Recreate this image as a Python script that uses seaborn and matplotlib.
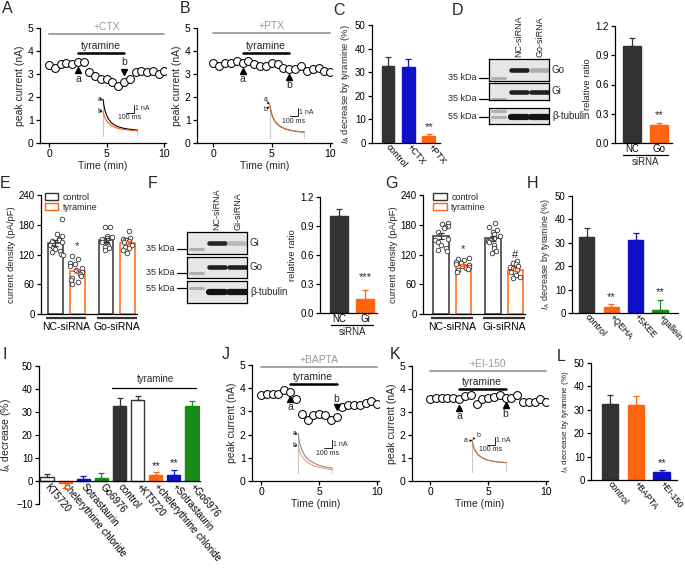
import numpy as np
import pandas as pd
import matplotlib
matplotlib.use("Agg")
import matplotlib.pyplot as plt
import matplotlib.transforms as mtransforms
from matplotlib.patches import Patch
import seaborn as sns

# ---------------- values ----------------
time_min = [0, 0.5, 1, 1.5, 2, 2.5, 3, 3.5, 4, 4.5, 5, 5.5, 6, 6.5, 7, 7.5, 8, 8.5, 9, 9.5, 10]
ctx_current = [3.40, 3.28, 3.45, 3.50, 3.42, 3.52, 3.52, 3.10, 2.90, 2.80, 2.77, 2.65, 2.50, 2.65, 2.77, 3.10, 3.15, 3.10, 3.12, 3.00, 3.12]
ptx_current = [3.48, 3.36, 3.48, 3.48, 3.55, 3.48, 3.55, 3.43, 3.33, 3.36, 3.48, 3.45, 3.26, 3.23, 3.22, 3.33, 3.12, 3.22, 3.26, 3.12, 3.07]
bapta_current = [3.70, 3.77, 3.77, 3.77, 3.91, 3.84, 3.55, 2.90, 2.65, 2.83, 2.87, 2.83, 2.65, 2.75, 3.19, 3.26, 3.29, 3.29, 3.36, 3.45, 3.33]
ei150_current = [3.55, 3.60, 3.62, 3.62, 3.62, 3.55, 3.70, 3.76, 3.35, 3.57, 3.62, 3.65, 3.72, 3.62, 3.60, 3.72, 3.45, 3.45, 3.45, 3.57, 3.45]
drug_span = [0, 10]
tyramine_span = [2.5, 6.5]
sample_a, sample_b = 2.5, 6.5

# example current traces (ms, nA)
trace_ms = [0, 10, 25, 45, 70, 100, 140, 190, 250, 320, 390, 430]
ctx_trace_a = [4.6, 3.9, 3.2, 2.6, 2.1, 1.7, 1.4, 1.15, 0.98, 0.86, 0.78, 0.75]
ctx_trace_b = [3.1, 2.7, 2.25, 1.9, 1.6, 1.35, 1.12, 0.95, 0.83, 0.73, 0.67, 0.65]
ptx_trace_a = [4.1, 3.5, 2.9, 2.4, 2.0, 1.65, 1.38, 1.15, 0.98, 0.85, 0.77, 0.74]
ptx_trace_b = [3.95, 3.4, 2.85, 2.35, 1.95, 1.62, 1.35, 1.13, 0.96, 0.84, 0.76, 0.73]
bapta_trace_a = [5.0, 4.3, 3.6, 3.0, 2.45, 2.0, 1.6, 1.3, 1.0, 0.8, 0.66, 0.6]
bapta_trace_b = [3.5, 3.05, 2.6, 2.15, 1.8, 1.48, 1.2, 0.95, 0.75, 0.58, 0.46, 0.42]
ei150_trace_a = [3.9, 3.5, 3.0, 2.6, 2.25, 1.95, 1.7, 1.5, 1.36, 1.26, 1.2, 1.17]
ei150_trace_b = [4.0, 3.55, 3.05, 2.62, 2.26, 1.96, 1.7, 1.5, 1.36, 1.26, 1.2, 1.17]

c_labels = ["control", "+CTX", "+PTX"]
c_mean = [32.7, 32.0, 2.8]
c_sem = [3.8, 3.4, 1.2]

d_labels = ["NC", "Go"]
d_mean = [1.0, 0.18]
d_sem = [0.075, 0.025]

f_labels = ["NC", "Gi"]
f_mean = [1.0, 0.145]
f_sem = [0.075, 0.09]

h_labels = ["control", "+QEHA", "+SKEE", "+gallein"]
h_mean = [32.5, 2.6, 31.3, 1.1]
h_sem = [3.8, 1.4, 2.9, 4.6]

i_labels = ["KT5720", "chelerythrine chloride", "Sotrastaurin", "Go6976", "control",
            "+KT5720", "+chelerythrine chloride", "+Sotrastaurin", "+Go6976"]
i_mean = [1.6, -1.0, 0.9, 1.4, 32.5, 35.4, 2.6, 2.6, 32.5]
i_sem = [1.3, 1.9, 1.1, 2.1, 3.6, 1.4, 1.2, 2.2, 2.5]

l_labels = ["control", "+BAPTA", "+EI-150"]
l_mean = [32.6, 31.9, 3.3]
l_sem = [3.8, 3.8, 1.0]

# current density (pA/pF), single cells
e_nc_control = [191, 162, 158, 152, 150, 147, 145, 140, 135, 132, 128, 126, 121, 118]
e_nc_tyramine = [116, 110, 103, 100, 96, 92, 88, 84, 80, 77, 73, 68, 64, 60]
e_go_control = [176, 176, 158, 155, 154, 151, 146, 143, 139, 137, 135, 133, 129]
e_go_tyramine = [167, 153, 151, 149, 149, 148, 146, 143, 139, 139, 136, 134, 129, 123]
g_nc_control = [184, 181, 178, 176, 174, 165, 152, 150, 146, 140, 134, 130, 127]
g_nc_tyramine = [112, 110, 108, 105, 103, 100, 98, 96, 94, 92, 90, 88, 85]
g_gi_control = [183, 175, 170, 165, 161, 157, 153, 148, 145, 140, 134, 128, 124]
g_gi_tyramine = [106, 103, 100, 97, 95, 93, 90, 88, 85, 82, 79, 75, 72]

# western blots: band strength per lane (NC-siRNA, x-siRNA)
d_blot_rows = ["Go", "Gi", "β-tubulin"]
d_blot_levels = [[0.95, 0.35], [0.95, 0.95], [1.0, 1.0]]
d_ladder = ["35 kDa", "35 kDa", "55 kDa"]
f_blot_rows = ["Gi", "Go", "β-tubulin"]
f_blot_levels = [[0.92, 0.3], [0.95, 0.95], [1.0, 1.0]]
f_ladder = ["35 kDa", "35 kDa", "55 kDa"]

# ---------------- style ----------------
DARK = "#333333"
BLUE = "#1010C8"
ORANGE = "#FF6410"
GREEN = "#178A17"
GRAY = "#9a9a9a"

sns.set_style("ticks")
plt.rcParams["font.family"] = ["Liberation Sans", "DejaVu Sans"]
plt.rcParams["mathtext.fontset"] = "custom"
plt.rcParams["mathtext.rm"] = "Liberation Sans"
plt.rcParams["mathtext.it"] = "Liberation Sans:italic"
plt.rcParams["axes.linewidth"] = 0.9
plt.rcParams["axes.edgecolor"] = "black"

W, H = 685, 570
fig = plt.figure(figsize=(W / 100, H / 100), dpi=100)


def add_ax(l, t, r, b):
    return fig.add_axes([l / W, 1 - b / H, (r - l) / W, (b - t) / H])


def style_axis(ax, fs=7):
    sns.despine(ax=ax)
    ax.tick_params(axis="both", labelsize=fs, length=3, width=0.9, pad=1.5, colors="black")


def time_panel(rect, xlim, current, drug, drug_y, tyr_y, a_mark, b_mark):
    ax = add_ax(*rect)
    sns.scatterplot(x=time_min, y=current, ax=ax, s=32, color="white",
                    edgecolor="black", linewidth=0.75, zorder=3)
    ax.set_xlim(*xlim)
    ax.set_ylim(0, 5)
    ax.set_xticks([0, 5, 10])
    ax.set_yticks(range(6))
    style_axis(ax, 7.5)
    ax.set_xlabel("Time (min)", fontsize=7.5, labelpad=1)
    ax.set_ylabel("peak current (nA)", fontsize=7.5, labelpad=2)
    ax.plot(drug_span, [drug_y] * 2, color=GRAY, lw=1.3, clip_on=False)
    ax.text(np.mean(drug_span), drug_y + 0.08, drug, color=GRAY, fontsize=7.5,
            ha="center", va="bottom")
    ax.plot(tyramine_span, [tyr_y] * 2, color="black", lw=1.8)
    ax.text(np.mean(tyramine_span), tyr_y + 0.08, "tyramine", fontsize=7.5,
            ha="center", va="bottom")
    for t, name, (tri_y, txt_y, mk) in [(sample_a, "a", a_mark), (sample_b, "b", b_mark)]:
        ax.plot(t, tri_y, marker=mk, color="black", ms=4.5, zorder=4)
        ax.text(t, txt_y, name, ha="center", va="center", fontsize=7.5)
    return ax


def trace_inset(x0, y0, tr_a, tr_b, col_a, col_b, sb, a_txt, b_txt):
    ax = add_ax(x0 - 4, y0 - 40, x0 + 40, y0 + 4)
    ax.set_xlim(-50, 500)
    ax.set_ylim(-0.5, 5.0)
    ax.axis("off")
    ax.plot([0, 0], [0, max(tr_a[0], tr_b[0])], color="#c8c8c8", lw=0.8)
    ax.plot([trace_ms[-1]] * 2, [0, tr_a[-1]], color="#c8c8c8", lw=0.6)
    sns.lineplot(x=trace_ms, y=tr_a, ax=ax, color=col_a, lw=0.8, sort=False)
    sns.lineplot(x=trace_ms, y=tr_b, ax=ax, color=col_b, lw=0.8, sort=False)
    st, si = sb
    ax.plot([st - 100, st, st], [si, si, si + 1], color="black", lw=0.6, clip_on=False)
    ax.text(st + 12, si + 0.5, "1 nA", fontsize=5, va="center", ha="left")
    ax.text(st - 50, si - 0.2, "100 ms", fontsize=5, va="top", ha="center")
    for name, tr, pos in [("a", tr_a, a_txt), ("b", tr_b, b_txt)]:
        ax.annotate(name, xy=(0, tr[0]), xytext=pos, fontsize=5, ha="center", va="center",
                    arrowprops=dict(arrowstyle="-|>", lw=0.4, mutation_scale=3,
                                    shrinkA=1, shrinkB=0.5, color="black"))
    return ax


def bar_panel(rect, labels, means, sems, fills, edges, ylim, yticks, xlim, width,
              ylabel, stars=None, yfmt=None, rot=-45, fs=7, zero_spine=False, ylfs=6.8):
    ax = add_ax(*rect)
    df = pd.DataFrame({"cond": labels, "val": means})
    sns.barplot(data=df, x="cond", y="val", hue="cond", palette=fills, legend=False,
                width=width, errorbar=None, saturation=1, linewidth=1.0, ax=ax)
    for patch, ec in zip(ax.patches, edges):
        patch.set_edgecolor(ec)
    pos = ax.get_xticks()
    for p, v, e, c in zip(pos, means, sems, edges):
        lo, hi = (e, 0) if v < 0 else (0, e)
        ax.errorbar(p, v, yerr=[[lo], [hi]], fmt="none", ecolor=c, elinewidth=0.9,
                    capsize=2.5, capthick=0.9)
    ax.set_xlim(*xlim)
    ax.set_ylim(*ylim)
    if zero_spine:
        ax.spines["bottom"].set_position(("data", 0))
    ax.set_yticks(yticks)
    if yfmt:
        ax.set_yticklabels([yfmt.format(v) for v in yticks])
    style_axis(ax, 7)
    ax.tick_params(axis="x", length=0, pad=2)
    if rot:
        ax.set_xticks(pos)
        ax.set_xticklabels(labels, rotation=rot, ha="left", va="center",
                           rotation_mode="anchor", fontsize=fs)
    else:
        ax.tick_params(axis="x", labelsize=fs)
    ax.set_xlabel("")
    ax.set_ylabel(ylabel, fontsize=ylfs, labelpad=2)
    if stars:
        for idx, (txt, y) in stars.items():
            ax.text(pos[idx], y, txt, ha="center", va="center", fontsize=8)
    return ax


def sirna_label(ax, y_line, y_txt):
    tr = mtransforms.blended_transform_factory(ax.transData, ax.transAxes)
    ax.plot([-0.32, 1.32], [y_line] * 2, color="black", lw=0.9, transform=tr, clip_on=False)
    ax.text(0.5, y_txt, "siRNA", fontsize=7, ha="center", va="top", transform=tr)


def group_panel(rect, cells, xlim, marks, legend_x):
    ax = add_ax(*rect)
    groups = list(dict.fromkeys(g for g, _, _ in cells))
    treats = ["control", "tyramine"]
    df = pd.DataFrame([(g, t, v) for g, t, vals in cells for v in vals],
                      columns=["group", "treat", "val"])
    pal = {"control": DARK, "tyramine": ORANGE}
    sns.barplot(data=df, x="group", y="val", hue="treat", order=groups, hue_order=treats,
                palette=pal, fill=False, errorbar=None, width=0.86, gap=0.32,
                linewidth=1.1, legend=False, ax=ax)
    np.random.seed(4)
    sns.stripplot(data=df, x="group", y="val", hue="treat", order=groups, hue_order=treats,
                  palette={"control": DARK, "tyramine": DARK}, dodge=True, jitter=0.26,
                  size=3.3, legend=False, ax=ax, zorder=3)
    for coll in ax.collections:
        coll.set_facecolor("white")
        coll.set_edgecolor(DARK)
        coll.set_linewidth(0.6)
    summ = df.groupby(["treat", "group"])["val"].agg(["mean", "sem"])
    keys = [(t, g) for t in treats for g in groups]
    for patch, (t, g) in zip(ax.patches, keys):
        cx = patch.get_x() + patch.get_width() / 2
        m, s = summ.loc[(t, g)]
        ax.errorbar(cx, m, yerr=s, fmt="none", ecolor=pal[t], elinewidth=0.9,
                    capsize=2.5, capthick=0.9, zorder=4)
        if (g, t) in marks:
            txt, y = marks[(g, t)]
            ax.text(cx, y, txt, ha="center", va="center", fontsize=8)
    ax.set_xlim(*xlim)
    ax.set_ylim(0, 240)
    ax.set_yticks([0, 60, 120, 180, 240])
    style_axis(ax, 7)
    ax.tick_params(axis="x", length=0, pad=6, labelsize=7.5)
    ax.set_xlabel("")
    ax.set_ylabel("current density (pA/pF)", fontsize=6.8, labelpad=2)
    tr = mtransforms.blended_transform_factory(ax.transData, ax.transAxes)
    for k in range(len(groups)):
        ax.plot([k - 0.4, k + 0.4], [-0.035] * 2, color=DARK, lw=1.6, transform=tr,
                clip_on=False, solid_capstyle="butt")
    handles = [Patch(facecolor="white", edgecolor=pal[t], linewidth=1.0) for t in treats]
    ax.legend(handles, treats, loc="upper left", bbox_to_anchor=(legend_x, 1.02),
              frameon=False, fontsize=6.5, handlelength=1.5, handleheight=0.8,
              borderpad=0, borderaxespad=0, labelspacing=0.15, handletextpad=0.5)
    return ax


def blot_panel(left, rows_px, names, levels, ladder, band_y, ladder_y, col_labels):
    lanes = [0, 1, 2]
    for k, ((top, bottom), name, lev, lad) in enumerate(zip(rows_px, names, levels, ladder)):
        ax = add_ax(left, top, left + 60, bottom)
        ax.set_facecolor("#e6e6e6")
        ax.set_xlim(-0.45, 2.45)
        ax.set_ylim(0, 1)
        ax.set_xticks([])
        ax.set_yticks([])
        for sp in ax.spines.values():
            sp.set_linewidth(0.9)
            sp.set_color("black")
        thick = 4.5 if k == 2 else 3.3
        for lane, lv in zip(lanes[1:], lev):
            g = 1 - 0.92 * lv
            ax.plot([lane - 0.4, lane + 0.4], [band_y[k]] * 2, color=(g, g, g), lw=thick,
                    solid_capstyle="round")
        for ly in ladder_y[k]:
            ax.plot([lanes[0] - 0.3, lanes[0] + 0.3], [ly] * 2, color="#b0b0b0", lw=2.2,
                    solid_capstyle="round")
        tr = mtransforms.blended_transform_factory(ax.transAxes, ax.transData)
        ax.plot([-0.17, -0.01], [ladder_y[k][-1]] * 2, color="black", lw=0.9,
                transform=tr, clip_on=False)
        ax.text(-0.2, ladder_y[k][-1], lad, fontsize=6.5, ha="right", va="center", transform=tr)
        ax.text(1.05, 0.5, name, fontsize=7, ha="left", va="center", transform=ax.transAxes)
        if k == 0:
            trc = mtransforms.blended_transform_factory(ax.transData, ax.transAxes)
            for lane, cl in zip(lanes[1:], col_labels):
                ax.text(lane, 1.08, cl, rotation=90, fontsize=6.5, ha="center", va="bottom",
                        transform=trc)


# ---------------- A, B, J, K : time courses ----------------
time_panel((40, 28, 166, 143), (-0.8, 10.15), ctx_current, "+CTX", 4.75, 3.9,
           (3.16, 2.8, "^"), (3.09, 3.52, "v"))
trace_inset(103, 136, ctx_trace_a, ctx_trace_b, "black", ORANGE, (387, 2.9),
            (-40, 4.6), (-40, 3.1))
time_panel((197, 28, 332, 143), (-1.4, 10.15), ptx_current, "+PTX", 4.78, 3.9,
           (3.12, 2.78, "^"), (2.87, 2.54, "^"))
trace_inset(270, 138, ptx_trace_a, ptx_trace_b, "#7a7a7a", "#D2691E", (350, 2.75),
            (-55, 4.8), (-55, 3.6))
time_panel((252, 365, 379, 481), (-0.78, 10.15), bapta_current, "+BAPTA", 4.93, 4.17,
           (3.55, 3.19, "^"), (3.19, 3.55, "v"))
trace_inset(298, 473, bapta_trace_a, bapta_trace_b, "#8c8c8c", "#F5A06A", (425, 3.1),
            (-40, 4.9), (-40, 3.4))
time_panel((412, 366, 548, 481), (-1.55, 10.15), ei150_current, "+EI-150", 4.78, 4.0,
           (3.16, 2.83, "^"), (3.3, 2.9, "^"))
trace_inset(472, 472, ei150_trace_a, ei150_trace_b, "#8c8c8c", "#C8783C", (287, 3.4),
            (-85, 4.0), (75, 4.6))

# ---------------- C ----------------
ia_label = r"$I_\mathrm{A}$ decrease by tyramine (%)"
bar_panel((372, 25, 440, 143), c_labels, c_mean, c_sem, [DARK, BLUE, ORANGE],
          [DARK, BLUE, ORANGE], (0, 50), [0, 10, 20, 30, 40, 50], (-0.78, 2.54), 0.63,
          ia_label, stars={2: ("**", 6.6)}, fs=6.6, rot=-50)

# ---------------- D ----------------
blot_panel(489, [(59, 81), (83, 100), (108, 124)], d_blot_rows, d_blot_levels, d_ladder,
           [0.5, 0.47, 0.44], [[0.14], [0.08], [0.81, 0.44]], ["NC-siRNA", "Go-siRNA"])
axd = bar_panel((615, 26, 672, 143), d_labels, d_mean, d_sem, [DARK, ORANGE], [DARK, ORANGE],
                (0, 1.2), [0, 0.3, 0.6, 0.9, 1.2], (-0.63, 1.48), 0.67, "relative ratio",
                stars={1: ("**", 0.285)}, yfmt="{:.1f}", rot=0)
axd.tick_params(axis="x", pad=1)
sirna_label(axd, -0.1, -0.12)

# ---------------- E ----------------
group_panel((41, 195, 137, 314),
            [("NC-siRNA", "control", e_nc_control), ("NC-siRNA", "tyramine", e_nc_tyramine),
             ("Go-siRNA", "control", e_go_control), ("Go-siRNA", "tyramine", e_go_tyramine)],
            (-0.5, 1.4), {("NC-siRNA", "tyramine"): ("*", 137)}, 0.04)

# ---------------- F ----------------
blot_panel(187, [(232, 254), (257, 278), (281, 303)], f_blot_rows, f_blot_levels, f_ladder,
           [0.5, 0.52, 0.5], [[0.23], [0.24], [0.68]], ["NC-siRNA", "Gi-siRNA"])
axf = bar_panel((320, 197, 377, 313), f_labels, f_mean, f_sem, [DARK, ORANGE], [DARK, ORANGE],
                (0, 1.2), [0, 0.3, 0.6, 0.9, 1.2], (-0.73, 1.46), 0.69, "relative ratio",
                stars={1: ("***", 0.37)}, yfmt="{:.1f}", rot=0)
axf.tick_params(axis="x", pad=1)
sirna_label(axf, -0.1, -0.12)

# ---------------- G ----------------
group_panel((423, 195, 525, 314),
            [("NC-siRNA", "control", g_nc_control), ("NC-siRNA", "tyramine", g_nc_tyramine),
             ("Gi-siRNA", "control", g_gi_control), ("Gi-siRNA", "tyramine", g_gi_tyramine)],
            (-0.56, 1.4), {("NC-siRNA", "tyramine"): ("*", 130),
                           ("Gi-siRNA", "tyramine"): ("#", 120)}, 0.1)

# ---------------- H ----------------
bar_panel((572, 196, 678, 313), h_labels, h_mean, h_sem, [DARK, ORANGE, BLUE, GREEN],
          [DARK, ORANGE, BLUE, GREEN], (0, 50), [0, 10, 20, 30, 40, 50], (-0.61, 3.74), 0.62,
          ia_label, stars={1: ("**", 6.8), 3: ("**", 9.0)}, fs=6.4, rot=-48, ylfs=6.4)

# ---------------- I ----------------
i_fill = ["white", ORANGE, BLUE, GREEN, DARK, "white", ORANGE, BLUE, GREEN]
i_edge = [DARK, ORANGE, BLUE, GREEN, DARK, DARK, ORANGE, BLUE, GREEN]
axi = bar_panel((39, 366, 200, 504), i_labels, i_mean, i_sem, i_fill, i_edge, (-10, 50),
                [-10, 0, 10, 20, 30, 40, 50], (-0.44, 8.44), 0.72,
                r"$I_\mathrm{A}$ decrease (%)", stars={6: ("**", 6.5), 7: ("**", 8.0)},
                fs=7, rot=-50, zero_spine=True, ylfs=7.5)
axi.tick_params(axis="x", pad=3)
start = i_labels.index("control")
axi.plot([start - 0.4, len(i_labels) - 1 + 0.2], [40.6] * 2, color="black", lw=0.9)
axi.text((start + len(i_labels) - 1) / 2, 42, "tyramine", fontsize=7, ha="center", va="bottom")

# ---------------- L ----------------
bar_panel((591, 363, 677, 480), l_labels, l_mean, l_sem, [DARK, ORANGE, BLUE],
          [DARK, ORANGE, BLUE], (0, 50), [0, 10, 20, 30, 40, 50], (-0.73, 2.58), 0.65,
          ia_label, stars={2: ("**", 7.2)}, fs=6.4, rot=-52, ylfs=5.9)

# ---------------- panel letters ----------------
letters = {"A": (2, 1), "B": (180, 1), "C": (333, 3), "D": (452, 3), "E": (0, 176),
           "F": (148, 176), "G": (385, 176), "H": (527, 176), "I": (2, 347),
           "J": (222, 347), "K": (390, 347), "L": (557, 349)}
for k, (x, y) in letters.items():
    fig.text(x / W, 1 - y / H, k, fontsize=11.5, ha="left", va="top")

fig.savefig("out.png", dpi=100)
